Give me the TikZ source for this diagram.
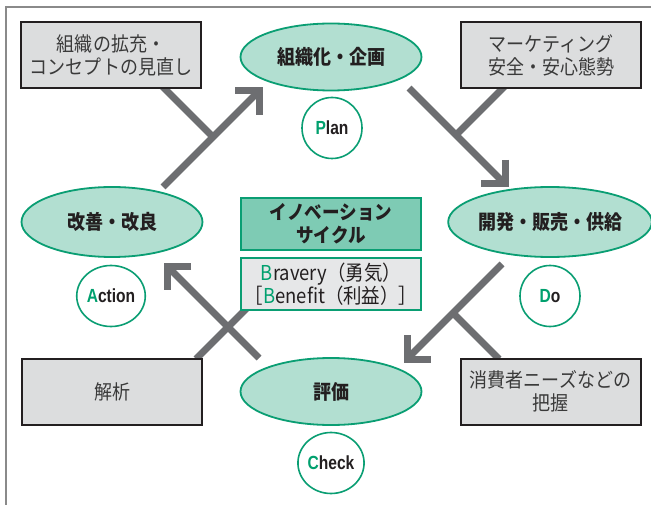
\documentclass[tikz,border=0pt]{standalone}
\usepackage{fontspec}
\usetikzlibrary{shapes.geometric}
\setmainfont{Liberation Sans}
\newfontfamily\cjk[FakeStretch=0.9]{Noto Sans CJK JP}
\newfontfamily\cond[FakeStretch=0.82]{Liberation Sans}
\definecolor{grn}{HTML}{0A9E73}
\definecolor{grnletter}{HTML}{00A06E}
\definecolor{mint}{HTML}{B2DFD1}
\definecolor{teal}{HTML}{7ECBB4}
\definecolor{boxgray}{HTML}{DCDDDE}
\definecolor{lightgray}{HTML}{E6E7E8}
\definecolor{arrgray}{HTML}{6D6E71}
\definecolor{dark}{HTML}{231F20}
\definecolor{txtgray}{HTML}{3A3A3A}
\definecolor{framegray}{HTML}{8A8A8A}
\begin{document}
\begin{tikzpicture}[x=1bp,y=-1bp,
  frameline/.style={draw=framegray,line width=1.5bp},
  graybox/.style={draw=dark,fill=boxgray,line width=2bp,minimum width=180bp,minimum height=66bp,inner sep=0pt,align=center,text=txtgray,font=\cjk\fontsize{20bp}{23bp}\selectfont},
  phase/.style={ellipse,draw=grn,fill=mint,line width=1.8bp,minimum width=181bp,minimum height=67bp,inner sep=0pt,align=center,text=dark,font=\cjk\bfseries\fontsize{20bp}{24bp}\selectfont},
  letter/.style={ellipse,draw=grn,fill=white,line width=1.6bp,minimum width=60bp,minimum height=61bp,inner sep=0pt,text=dark,font=\cond\bfseries\fontsize{19bp}{22bp}\selectfont},
  centerbox/.style={draw=grn,line width=2bp,minimum width=180bp,minimum height=52bp,inner sep=0pt,align=center,text=dark,font=\cjk\fontsize{19.5bp}{23bp}\selectfont},
  shaft/.style={draw=arrgray,line width=7bp,line cap=butt},
  chev/.style={draw=arrgray,line width=7bp,line cap=butt,line join=miter}]
\useasboundingbox (0,0) rectangle (651,505);
\fill[white] (0,0) rectangle (651,505);
\draw[frameline] (651,7) -- (6,7) -- (6,505);

% arrow coordinates
\coordinate (a1s) at (163,187); \coordinate (a1t) at (259,91);
\coordinate (b1s) at (162,86);  \coordinate (b1e) at (213,137);
\coordinate (a2s) at (409,88);  \coordinate (a2t) at (505,184);
\coordinate (b2s) at (505,86);  \coordinate (b2e) at (455,136);
\coordinate (a3s) at (502,264); \coordinate (a3t) at (407,359);
\coordinate (b3s) at (499,359); \coordinate (b3e) at (454,314);
\coordinate (a4s) at (259,358); \coordinate (a4t) at (167,266);
\coordinate (b4s) at (196,359); \coordinate (b4e) at (248,307);

\draw[shaft] (a1s) -- (a1t);
\draw[chev] ([shift={(-24,0)}]a1t) -- (a1t) -- ([shift={(0,24)}]a1t);
\draw[shaft] (b1s) -- (b1e);
\draw[shaft] (a2s) -- (a2t);
\draw[chev] ([shift={(0,-24)}]a2t) -- (a2t) -- ([shift={(-24,0)}]a2t);
\draw[shaft] (b2s) -- (b2e);
\draw[shaft] (a3s) -- (a3t);
\draw[chev] ([shift={(0,-24)}]a3t) -- (a3t) -- ([shift={(24,0)}]a3t);
\draw[shaft] (b3s) -- (b3e);
\draw[shaft] (a4s) -- (a4t);
\draw[chev] ([shift={(24,0)}]a4t) -- (a4t) -- ([shift={(0,24)}]a4t);
\draw[shaft] (b4s) -- (b4e);

% boxes
\node[graybox] (tl) at (111,55) {組織の拡充・\\コンセプトの見直し};
\node[graybox] (tr) at (551,55.5) {マーケティング\\安全・安心態勢};
\node[graybox] (bl) at (112,391.5) {解析};
\node[graybox] (br) at (550.5,391.5) {消費者ニーズなどの\\把握};

% phases
\node[phase] (plan) at (331,57) {組織化・企画};
\node[phase,minimum height=70bp] (act) at (112,222) {改善・改良};
\node[phase,minimum height=70bp,minimum width=179bp] (do) at (550,222) {開発・販売・供給};
\node[phase] (chk) at (331,391.5) {評価};

% letters
\node[letter] (lp) at (332,128) {\textcolor{grnletter}{P}lan};
\node[letter] (la) at (111,296) {\textcolor{grnletter}{A}ction};
\node[letter] (ld) at (550,296) {\textcolor{grnletter}{D}o};
\node[letter] (lc) at (331,463) {\textcolor{grnletter}{C}heck};

% center boxes
\node[centerbox,fill=teal,font=\cjk\bfseries\fontsize{19.5bp}{23bp}\selectfont] (innov) at (331,224) {イノベーション\\サイクル};
\node[centerbox,fill=lightgray,font=\cjk\fontsize{20.5bp}{23bp}\selectfont] (brav) at (331,284) {\textcolor{grnletter}{B}ravery（勇気）\\［\textcolor{grnletter}{B}enefit（利益）］};
\end{tikzpicture}
\end{document}
